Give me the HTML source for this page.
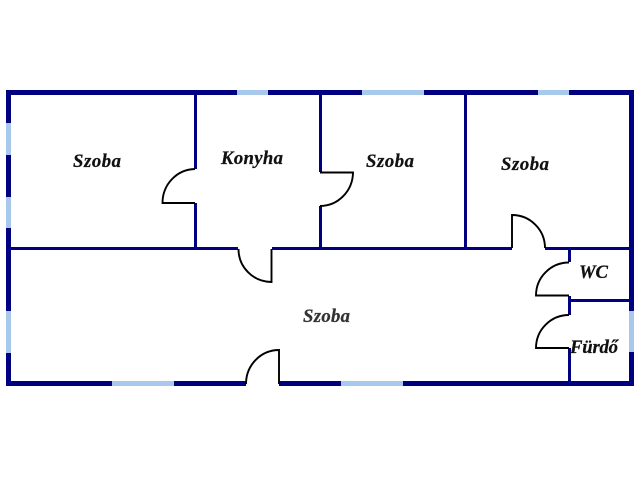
<!DOCTYPE html>
<html>
<head>
<meta charset="utf-8">
<style>
html,body{margin:0;padding:0;background:#fff;width:640px;height:480px;overflow:hidden}
svg{display:block;position:absolute;left:0;top:0}
text{font-family:"Liberation Serif",serif;font-weight:bold;font-style:italic;font-size:18.700px;fill:#111;stroke:#111;stroke-width:.25}
</style>
</head>
<body>
<svg width="640" height="480" viewBox="0 0 640 480" xmlns="http://www.w3.org/2000/svg">
<g fill="none" stroke="#000080" stroke-width="5">
  <path d="M6 92.500H237M268 92.500H362M424 92.500H538M569 92.500H631.500V311M631.500 352V383.500H279M246 383.500H8.500V90"/>
</g>
<g fill="none" stroke="#a9c9ec" stroke-width="5">
  <path d="M237 92.500H268M362 92.500H424M538 92.500H569"/>
  <path d="M8.500 123V155M8.500 197V228M8.500 311V353"/>
  <path d="M112 383.500H174M341 383.500H403"/>
  <path d="M631.500 311V352"/>
</g>
<g fill="none" stroke="#000080" stroke-width="3">
  <path d="M8 248.500H238M272 248.500H512M545 248.500H632"/>
  <path d="M195.500 92V169M195.500 203V248"/>
  <path d="M320.500 92V172M320.500 206V248"/>
  <path d="M465.500 92V248"/>
  <path d="M569.500 248V262M569.500 296V315M569.500 348V384"/>
  <path d="M569 300.500H632"/>
</g>
<g fill="none" stroke="#000" stroke-width="1.900">
  <path d="M195 169A33 34 0 0 0 162.500 203H195"/>
  <path d="M320 172.500H353A33 34 0 0 1 320 206"/>
  <path d="M238.500 249A33 33 0 0 0 271.500 282V249"/>
  <path d="M246 384A33 34 0 0 1 279 350V384"/>
  <path d="M512 248V215A33 33 0 0 1 545 248"/>
  <path d="M569 262.500A33 33 0 0 0 536 295.500H569"/>
  <path d="M569 315A33 33 0 0 0 536 348H569"/>
</g>
<text x="73" y="167" textLength="48" lengthAdjust="spacing">Szoba</text>
<text x="221" y="164" textLength="62" lengthAdjust="spacing">Konyha</text>
<text x="366" y="167" textLength="48" lengthAdjust="spacing">Szoba</text>
<text x="501" y="170" textLength="48" lengthAdjust="spacing">Szoba</text>
<text x="303" y="322" textLength="47" lengthAdjust="spacing" style="fill:#333;stroke:#333">Szoba</text>
<text x="579" y="278" textLength="29" lengthAdjust="spacing">WC</text>
<text x="570" y="353" textLength="48" lengthAdjust="spacing">Fürdő</text>
</svg>
</body>
</html>
